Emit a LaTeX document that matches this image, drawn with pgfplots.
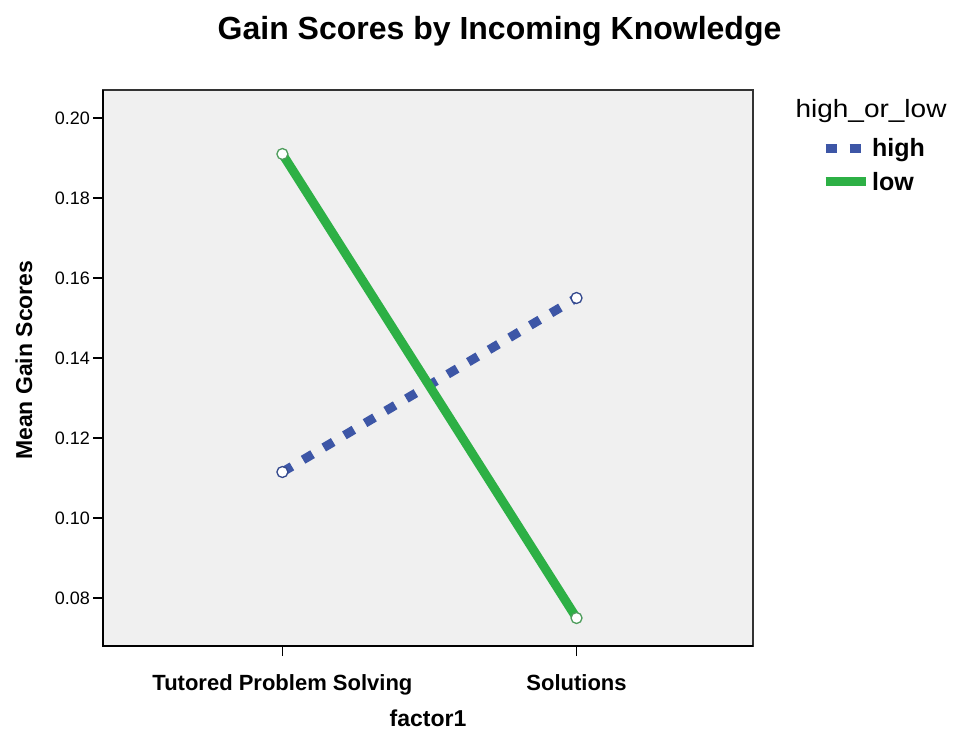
\documentclass[border=0pt]{standalone}
\usepackage{pgfplots}
\pgfplotsset{compat=1.18}
\usepackage{fontspec}
\setmainfont{Liberation Sans}
\definecolor{bgc}{HTML}{F0F0F0}
\definecolor{lowgreen}{HTML}{2DB045}
\definecolor{highblue}{HTML}{3D56A6}
\definecolor{frame}{HTML}{333333}
\begin{document}
\begin{tikzpicture}[x=1pt,y=1pt]
\path[use as bounding box] (0,0) rectangle (957,732);
\node[anchor=base, font=\fontsize{32}{32}\selectfont\bfseries] at (499.5,692) {Gain Scores by Incoming Knowledge};
\begin{axis}[
  at={(103pt,86pt)}, anchor=south west,
  scale only axis, width=650pt, height=556pt,
  xmin=-0.61, xmax=1.6, ymin=0.068, ymax=0.207,
  axis background/.style={fill=bgc},
  axis line style={frame, line width=1.2pt},
  xtick={0,1}, xticklabels={Tutored Problem Solving, Solutions},
  ytick={0.08,0.10,0.12,0.14,0.16,0.18,0.20},
  tick pos=left, tick align=outside, major tick length=10pt,
  tick style={black, line width=1.5pt},
  /pgf/number format/assume math mode=true,
  yticklabel style={/pgf/number format/.cd, fixed, fixed zerofill, precision=2, /tikz/.cd,
    font=\fontsize{18}{18}\selectfont, inner sep=3pt},
  xticklabel style={font=\fontsize{22}{22}\selectfont\bfseries, inner sep=0pt, yshift=-18pt},
  xlabel={factor1},
  xlabel style={at={(rel axis cs:0.5,0)}, anchor=base, yshift=-80pt, font=\fontsize{23}{23}\selectfont\bfseries},
  ylabel={Mean Gain Scores},
  ylabel style={at={(rel axis cs:-0.1215,0.514)}, anchor=center, font=\fontsize{23}{23}\selectfont\bfseries},
  legend style={at={(rel axis cs:1.1046,0.917)}, anchor=north west, draw=none, fill=none,
    font=\fontsize{25}{25}\selectfont\bfseries, row sep=10pt, inner sep=0pt,
    nodes={inner sep=2pt}},
  legend cell align=left,
  legend image code/.code={\draw[#1] (0pt,0pt) -- (40pt,0pt);},
]
\addplot[highblue, line width=9pt, dash pattern=on 11pt off 13pt,
  mark=*, mark size=5.5pt, mark options={solid, fill=white, draw=highblue!85!black, line width=1.3pt}]
  coordinates {(0,0.1115) (1,0.155)};
\addlegendentry{high}
\addplot[lowgreen, line width=9pt,
  mark=*, mark size=5.5pt, mark options={solid, fill=white, draw=lowgreen!60!gray, line width=1.3pt}]
  coordinates {(0,0.191) (1,0.075)};
\addlegendentry{low}
\end{axis}
\node[font=\fontsize{25}{25}\selectfont, anchor=center] at (871,621) {\scalebox{1.12}[1]{high\_or\_low}};
\draw[black, line width=2pt] (103,642) -- (103,86) -- (753,86);
\end{tikzpicture}
\end{document}
